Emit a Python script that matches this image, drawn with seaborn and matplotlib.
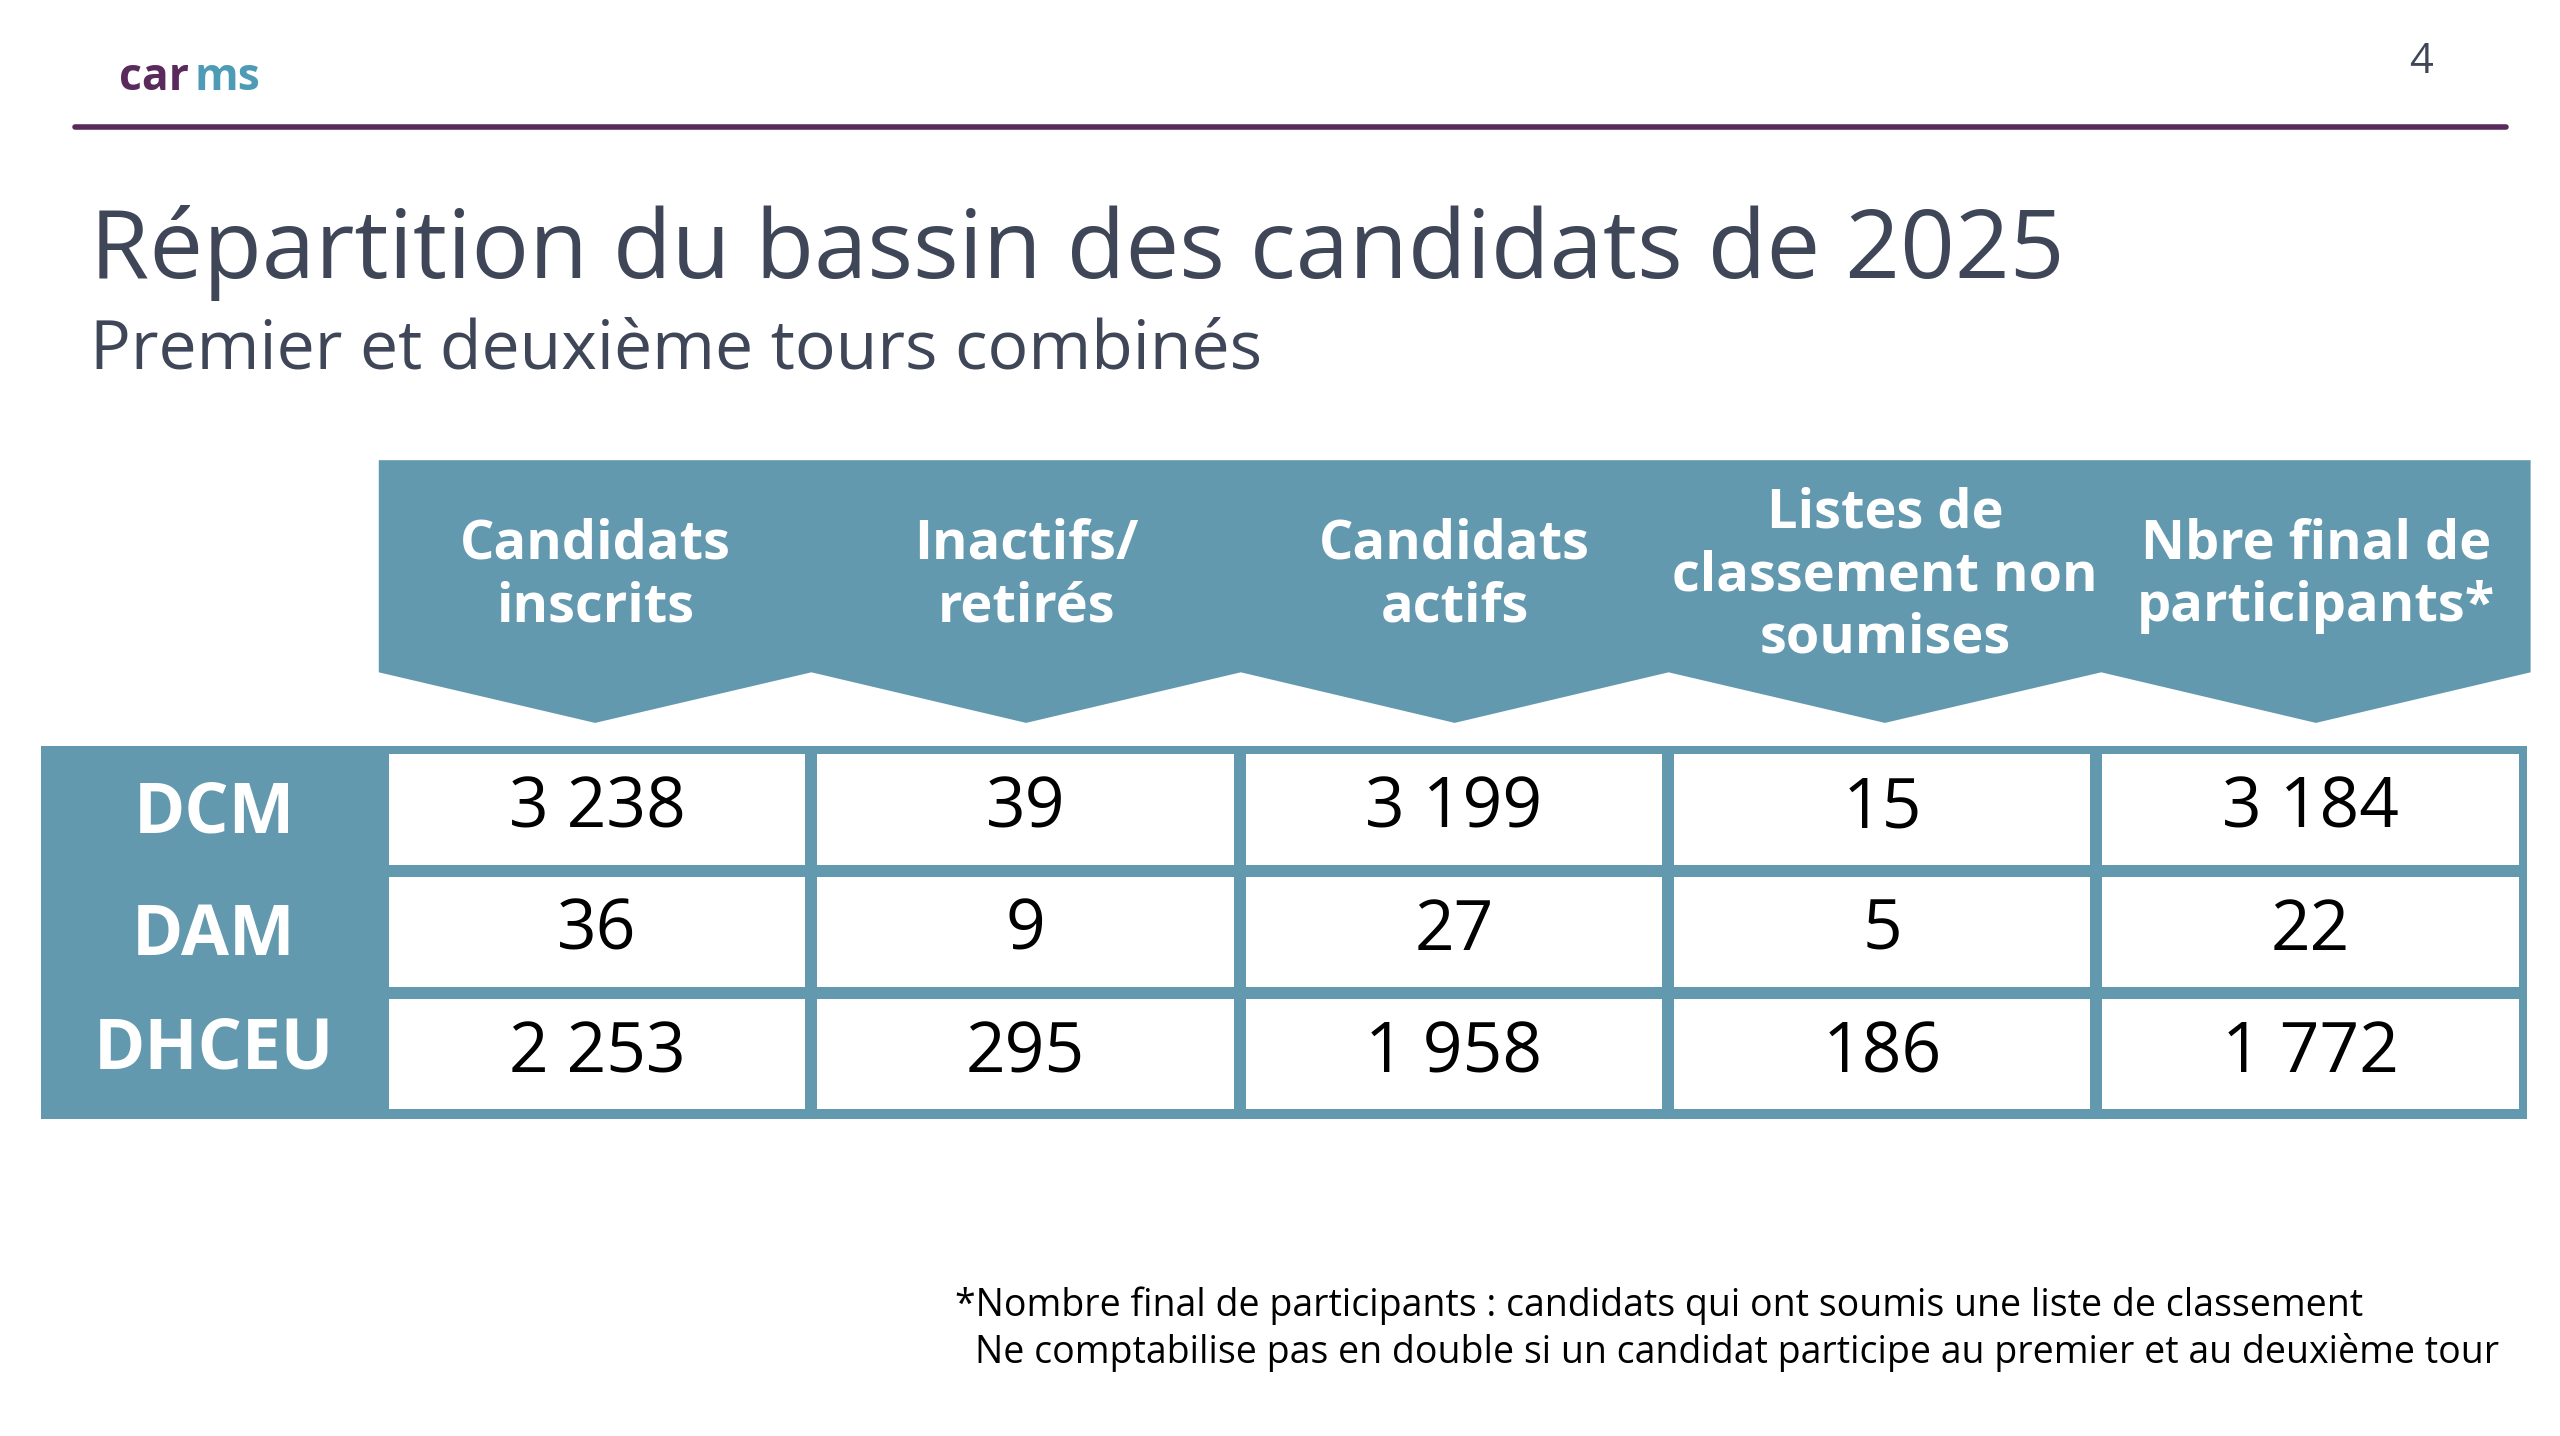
import matplotlib
matplotlib.use("Agg")
import matplotlib.pyplot as plt
import seaborn as sns
import numpy as np
import pandas as pd
from matplotlib.patches import Polygon, Rectangle

sns.set_theme(style="white")
plt.rcParams['font.family'] = ['Open Sans', 'DejaVu Sans']

# data
columns = ["Candidats\ninscrits", "Inactifs/\nretirés", "Candidats\nactifs",
           "Listes de\nclassement non\nsoumises", "Nbre final de\nparticipants*"]
rows = ["DCM", "DAM", "DHCEU"]
inscrits = [3238, 36, 2253]
inactifs = [39, 9, 295]
actifs = [3199, 27, 1958]
non_soumises = [15, 5, 186]
final = [3184, 22, 1772]

df = pd.DataFrame({c: v for c, v in zip(columns, [inscrits, inactifs, actifs, non_soumises, final])}, index=rows)
labels = df.map(lambda v: f"{v:,}".replace(",", " "))

BLUE = "#6399AF"
TITLE = "#3E4658"
PURPLE = "#5A2A5C"
W, H = 1568, 880

fig = plt.figure(figsize=(25.6, 14.36), dpi=100)
bg = fig.add_axes([0, 0, 1, 1])
bg.set_xlim(0, W)
bg.set_ylim(H, 0)
bg.axis("off")

# header line + logo + page number
bg.plot([46, 1535], [78, 78], color=PURPLE, lw=4)
bg.text(73, 48, "car", color=PURPLE, fontsize=32, fontweight="bold", va="center", ha="left")
bg.text(119, 48, "ms", color="#4E9BB5", fontsize=32, fontweight="bold", va="center", ha="left")
bg.text(1483, 38, "4", color=TITLE, fontsize=30, va="center", ha="center")

bg.text(55, 155, "Répartition du bassin des candidats de 2025", color=TITLE,
        fontsize=69, va="center", ha="left")
bg.text(55, 215, "Premier et deuxième tours combinés", color=TITLE,
        fontsize=49, va="center", ha="left")

# header chevrons
edges = [232, 497, 760, 1022, 1287, 1550]
pts = [(232, 282), (1550, 282), (1550, 412)]
for i in range(len(edges) - 1, 0, -1):
    mid = (edges[i - 1] + edges[i]) / 2
    pts.append((mid, 443))
    pts.append((edges[i - 1], 412))
bg.add_patch(Polygon(pts, closed=True, color=BLUE, lw=0))
for i, name in enumerate(columns):
    mid = (edges[i] + edges[i + 1]) / 2
    bg.text(mid, 353, name, color="white", fontsize=39, fontweight="bold",
            ha="center", va="center", linespacing=1.2)

# table band
bg.add_patch(Rectangle((25, 457), 1523, 229, color=BLUE, lw=0))
row_y = [499, 574, 644]
for y, r in zip(row_y, rows):
    bg.text(131, y, r, color="white", fontsize=50, fontweight="bold", ha="center", va="center")

# cells
x0, x1, y0, y1 = 234.5, 1546.5, 458.5, 683.5
ax = fig.add_axes([x0 / W, 1 - y1 / H, (x1 - x0) / W, (y1 - y0) / H])
sns.heatmap(np.zeros(df.shape), annot=labels.values, fmt="", cbar=False,
            cmap=matplotlib.colors.ListedColormap(["white"]),
            linewidths=8.3, linecolor=BLUE, ax=ax,
            annot_kws={"fontsize": 50, "color": "black"})
ax.set_xticks([])
ax.set_yticks([])

bg.text(585, 800, "*Nombre final de participants : candidats qui ont soumis une liste de classement",
        fontsize=27, color="black", ha="left", va="center")
bg.text(597, 829, "Ne comptabilise pas en double si un candidat participe au premier et au deuxième tour",
        fontsize=27, color="black", ha="left", va="center")

fig.savefig("out.png", dpi=100)
